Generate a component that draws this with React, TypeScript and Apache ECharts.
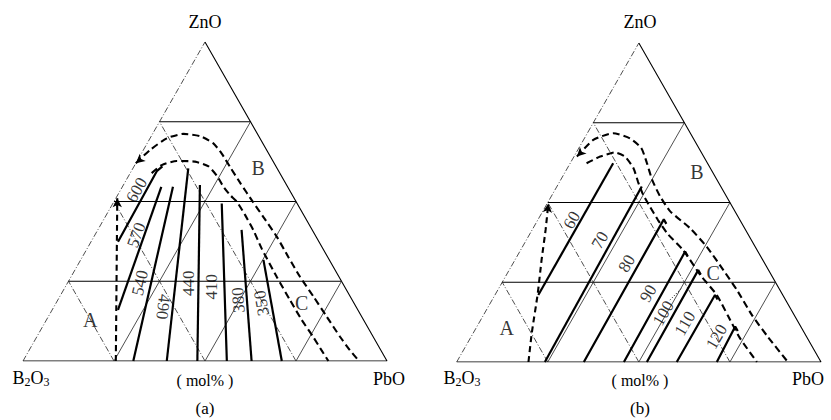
import { useEffect, useRef } from 'react';
import * as echarts from 'echarts';

// All compositions are [PbO mol%, ZnO mol%]; B2O3 = 100 - PbO - ZnO.
const gridSteps = [25, 50, 75];
const regionNames = ['A', 'B', 'C'];

// ---------- (a) ----------
const leftIsoLabels = ['600', '570', '540', '490', '440', '410', '380', '350'];
const leftIsolines = [
  [[7.4, 37.4], [7.0, 59.5], [7.8, 61.0]],
  [[18.1, 16.0], [10.7, 54.6]],
  [[30.3, 0], [13.9, 54.6]],
  [[39.5, 0], [15.2, 60.4]],
  [[47.9, 0], [21.0, 55.2]],
  [[56.0, 0], [29.9, 49.4]],
  [[62.8, 0], [39.5, 41.1]],
  [[71.1, 0], [50.2, 31.7]],
];
const leftLabelPos = [
  [4.4, 53.6], [11.4, 39.5], [19.9, 24.5], [30.0, 17.0],
  [33.2, 24.4], [40.2, 23.3], [49.6, 19.1], [56.5, 18.1],
];
const leftLabelRotate = [60, 70, 77, -97, 90, 90, 94, 100];
const leftInnerDashed = [
  [5.9, 58.9], [7.4, 61.4], [10.9, 62.7], [16.0, 62.5], [20.3, 61.1], [24.3, 58.0],
  [27.9, 54.5], [30.9, 52.0], [33.7, 50.0], [38.1, 45.8], [42.7, 41.1], [47.9, 35.3],
  [56.5, 26.4], [63.8, 19.1], [70.1, 12.9], [75.9, 7.6], [80.3, 3.4], [83.9, 0],
];
const leftOuterDashed = [
  [0, 62.0], [1.8, 66.1], [4.6, 69.8], [8.5, 71.2], [13.4, 70.5], [18.2, 68.2],
  [22.0, 65.1], [26.5, 60.8], [32.0, 55.6], [38.2, 49.9], [43.4, 45.2], [50.2, 39.0],
  [56.5, 32.7], [62.9, 26.4], [69.7, 20.2], [76.5, 13.9], [83.3, 7.6], [88.1, 3.4], [92.3, 0],
];
const leftArrowDashed = [[25.5, 0], [0.4, 51.0]];
const leftRegionPos = [[12.0, 12.9], [34.4, 60.4], [67.5, 18.1]];

// ---------- (b) ----------
const rightIsoLabels = ['60', '70', '80', '90', '100', '110', '120'];
const rightIsolines = [
  [[11.9, 21.0], [11.8, 62.3]],
  [[24.2, 0], [23.3, 55.0]],
  [[34.9, 0], [34.5, 44.7], [35.9, 43.3]],
  [[45.9, 0], [45.4, 34.6], [46.8, 33.2]],
  [[52.2, 0], [51.9, 28.8], [53.3, 27.4]],
  [[60.4, 0], [60.4, 21.0], [61.8, 19.6]],
  [[71.4, 0], [70.9, 11.1], [72.3, 9.7]],
];
const rightLabelPos = [
  [9.3, 44.5], [20.2, 38.2], [31.2, 30.9], [41.8, 21.5],
  [49.1, 15.3], [56.6, 12.1], [67.4, 7.9],
];
const rightLabelRotate = [60, 60, 60, 60, 60, 60, 60];
const rightInnerDashed = [
  [4.5, 62.3], [7.2, 64.4], [10.6, 65.7], [14.0, 64.4], [18.1, 60.8], [21.6, 56.4],
  [25.0, 52.4], [28.8, 48.6], [33.0, 44.5], [37.9, 40.1], [44.6, 35.1], [53.2, 27.3],
  [60.9, 21.0], [67.3, 14.4], [74.0, 7.5], [82.4, 0],
];
const rightOuterDashed = [
  [0.8, 64.4], [2.7, 69.6], [7.1, 71.7], [12.5, 70.1], [17.1, 67.1], [21.0, 62.4],
  [25.1, 57.1], [29.8, 52.0], [34.9, 47.3], [43.0, 42.0], [50.6, 36.1], [58.8, 28.8],
  [65.6, 22.6], [73.7, 14.7], [81.1, 8.2], [90.9, 0],
];
const rightArrowDashed = [[19.7, 0], [16.1, 9.0], [11.5, 21.5], [7.3, 32.0], [3.7, 41.4], [0.3, 49.7]];
const rightDottedLeader = [[48.8, 19.4], [50.2, 23.2]];
const rightRegionPos = [[8.4, 10.6], [36.1, 59.7], [56.5, 27.8]];

const INK = '#000000';
const SERIF = '"Liberation Serif", "DejaVu Serif", serif';

const tern = (p: number[]) => [p[0] + p[1] / 2, p[1]];

function line(idx: number, pts: number[][], lineStyle: any, extra: any = {}) {
  return {
    type: 'line',
    xAxisIndex: idx,
    yAxisIndex: idx,
    data: pts.map(tern),
    showSymbol: false,
    symbol: 'none',
    silent: true,
    animation: false,
    lineStyle: { color: INK, ...lineStyle },
    ...extra,
  };
}

function arrowLine(idx: number, pts: number[][], arrowAt: number, rot: number, lineStyle: any, extra: any = {}) {
  return {
    type: 'line',
    xAxisIndex: idx,
    yAxisIndex: idx,
    data: pts.map((p, i) =>
      i === arrowAt
        ? { value: tern(p), symbol: 'arrow', symbolSize: [7, 9], symbolRotate: rot, itemStyle: { color: INK } }
        : { value: tern(p), symbol: 'none' }
    ),
    showSymbol: true,
    showAllSymbol: true,
    silent: true,
    animation: false,
    lineStyle: { color: INK, ...lineStyle },
    ...extra,
  };
}

function gridSeries(idx: number) {
  const out: any[] = [];
  const dashDot = { width: 0.8, type: [6, 2, 1, 2], color: '#222' };
  out.push(line(idx, [[0, 0], [100, 0], [0, 100]], { width: 1.1 }));
  out.push(line(idx, [[0, 0], [0, 100]], dashDot));
  gridSteps.forEach((k) => {
    out.push(line(idx, [[0, k], [100 - k, k]], { width: 1.1 }));
    out.push(line(idx, [[k, 0], [k, 100 - k]], { width: 0.8, color: '#222' }));
    out.push(line(idx, [[100 - k, 0], [0, 100 - k]], dashDot));
  });
  return out;
}

function labelSeries(idx: number, names: string[], pos: number[][], rot: number[], fontSize: number) {
  return {
    type: 'scatter',
    xAxisIndex: idx,
    yAxisIndex: idx,
    symbolSize: 0,
    silent: true,
    clip: false,
    data: names.map((n, i) => ({ name: n, value: tern(pos[i]), label: { rotate: rot[i] } })),
    label: {
      show: true,
      position: 'inside',
      formatter: '{b}',
      color: INK,
      fontFamily: SERIF,
      fontSize,
    },
  };
}

function panel(idx: number, iso: number[][][], isoNames: string[], isoPos: number[][], isoRot: number[],
  inner: number[][], outer: number[][], arrow: number[][], arrowRot: number, outerRot: number, regionPos: number[][]) {
  const s: any[] = [...gridSeries(idx)];
  iso.forEach((pts) => s.push(line(idx, pts, { width: 2.2 })));
  s.push(line(idx, inner, { width: 2.1, type: [7, 4] }, { smooth: 0.2 }));
  s.push(arrowLine(idx, outer, 0, outerRot, { width: 2.1, type: [7, 4] }, { smooth: 0.2 }));
  s.push(arrowLine(idx, arrow, arrow.length - 1, arrowRot, { width: 2.1, type: [6, 4] }, { smooth: 0.2 }));
  s.push(labelSeries(idx, isoNames, isoPos, isoRot, 17));
  s.push(labelSeries(idx, regionNames, regionPos, [0, 0, 0], 20));
  return s;
}

function cornerTexts(cx: number, left: number, right: number, tag: string) {
  const base = { fill: INK, textAlign: 'center', textVerticalAlign: 'middle' };
  return [
    { type: 'text', x: cx, y: 22, style: { ...base, text: 'ZnO', font: `18px ${SERIF}` } },
    {
      type: 'text', x: left, y: 378,
      style: {
        ...base,
        text: '{n|B}{s|2}{n|O}{s|3}',
        rich: {
          n: { fontSize: 18, fontFamily: SERIF, lineHeight: 20, fill: INK },
          s: { fontSize: 12, fontFamily: SERIF, lineHeight: 13, verticalAlign: 'bottom', fill: INK },
        },
      },
    },
    { type: 'text', x: right, y: 379, style: { ...base, text: 'PbO', font: `18px ${SERIF}` } },
    { type: 'text', x: cx, y: 380, style: { ...base, text: '( mol% )', font: `16px ${SERIF}` } },
    { type: 'text', x: cx, y: 408, style: { ...base, text: tag, font: `17px ${SERIF}` } },
  ];
}

export default function App() {
  const ref = useRef<HTMLDivElement>(null);
  useEffect(() => {
    if (!ref.current) return;
    const chart = echarts.init(ref.current, undefined, { renderer: 'svg' });
    const series = [
      ...panel(0, leftIsolines, leftIsoLabels, leftLabelPos, leftLabelRotate,
        leftInnerDashed, leftOuterDashed, leftArrowDashed, 0, 130, leftRegionPos),
      ...panel(1, rightIsolines, rightIsoLabels, rightLabelPos, rightLabelRotate,
        rightInnerDashed, rightOuterDashed, rightArrowDashed, -6, 135, rightRegionPos),
      line(1, rightDottedLeader, { width: 1, type: [1, 2] }),
    ];
    chart.setOption({
      animation: false,
      backgroundColor: '#ffffff',
      grid: [
        { left: 23, top: 42, width: 364, height: 319 },
        { left: 456.7, top: 43, width: 364.3, height: 319 },
      ],
      xAxis: [
        { type: 'value', gridIndex: 0, min: 0, max: 100, show: false },
        { type: 'value', gridIndex: 1, min: 0, max: 100, show: false },
      ],
      yAxis: [
        { type: 'value', gridIndex: 0, min: 0, max: 100, show: false },
        { type: 'value', gridIndex: 1, min: 0, max: 100, show: false },
      ],
      graphic: [
        ...cornerTexts(205, 31, 389, '(a)'),
        ...cornerTexts(640, 462, 808, '(b)'),
      ],
      series,
    });
    return () => chart.dispose();
  }, []);
  return (
    <div
      ref={ref}
      style={{ position: 'fixed', left: 0, top: 0, width: 831, height: 420, background: '#fff' }}
    />
  );
}
